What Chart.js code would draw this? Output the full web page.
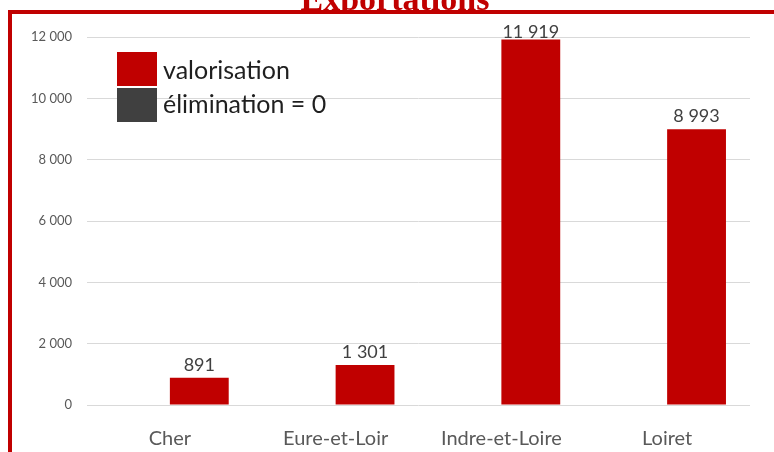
<!DOCTYPE html>
<html>
<head>
<meta charset="utf-8">
<script src="https://cdn.jsdelivr.net/npm/chart.js@4"></script>
<style>
	html, body { margin: 0; padding: 0; background: #fff; }
	#wrap { position: relative; width: 774px; height: 452px; overflow: hidden; }
	#chart { position: absolute; left: 0; top: 0; }
	#title-clip { position: absolute; left: 8px; top: 0; width: 774px; height: 10px; overflow: hidden; }
	#title { position: absolute; left: 0; top: -18px; width: 774px; text-align: center;
		font: bold 34px 'Liberation Serif', serif; line-height: 34px; color: #c00000; }
	#frame { position: absolute; left: 8px; top: 10px; width: 800px; height: 500px;
		border-left: 4px solid #c00000; border-top: 4px solid #c00000; }
</style>
</head>
<body>
<div id="wrap">
	<canvas id="chart" width="774" height="452"></canvas>
	<div id="title-clip"><div id="title">Exportations</div></div>
	<div id="frame"></div>
</div>
<script>
// Départements
const departements = ['Cher', 'Eure-et-Loir', 'Indre-et-Loire', 'Loiret'];

// tonnes
const valorisation = [891, 1301, 11919, 8993];
const elimination = [0, 0, 0, 0];

const yTicks = [0, 2000, 4000, 6000, 8000, 10000, 12000];

Chart.defaults.font.family = 'Lato, sans-serif';

/* Thousands with a space, like "11 919" */
function formatNumber(value) {
	return String(value).replace(/\B(?=(\d{3})+(?!\d))/g, ' ');
}

/* Values above the valorisation bars */
const valueLabels = {
	id: 'valueLabels',
	afterDatasetsDraw(chart) {
		const ctx = chart.ctx;
		const meta = chart.getDatasetMeta(1);
		ctx.save();
		ctx.font = '18px Lato, sans-serif';
		ctx.fillStyle = '#404040';
		ctx.textAlign = 'center';
		ctx.textBaseline = 'alphabetic';
		meta.data.forEach((bar, i) => {
			// keep the top label from going too far above the plot
			const y = Math.max(bar.y - 7, chart.chartArea.top + 1);
			ctx.fillText(formatNumber(chart.data.datasets[1].data[i]), bar.x, y);
		});
		ctx.restore();
	}
};

/* Legend drawn inside the plot, top left */
const insideLegend = {
	id: 'insideLegend',
	afterDraw(chart) {
		const ctx = chart.ctx;
		const order = [1, 0];
		ctx.save();
		ctx.font = '25px Lato, sans-serif';
		ctx.textAlign = 'left';
		ctx.textBaseline = 'alphabetic';
		order.forEach((idx, row) => {
			const ds = chart.data.datasets[idx];
			const top = 52 + row * 36;
			ctx.fillStyle = ds.backgroundColor;
			ctx.fillRect(117, top, 40, 34);
			ctx.fillStyle = '#1f1f1f';
			ctx.fillText(ds.label, 163, 79 + row * 34);
		});
		ctx.restore();
	}
};

new Chart(document.getElementById('chart'), {
	type: 'bar',
	data: {
		labels: departements,
		datasets: [
			{ label: 'élimination = 0', data: elimination, backgroundColor: '#404040' },
			{ label: 'valorisation', data: valorisation, backgroundColor: '#c00000' }
		]
	},
	options: {
		responsive: false,
		animation: false,
		categoryPercentage: 0.71,
		barPercentage: 1,
		layout: { padding: { top: 37, right: 24, left: 0, bottom: 0 } },
		plugins: {
			legend: { display: false },
			title: { display: false },
			tooltip: { enabled: false }
		},
		scales: {
			x: {
				grid: { display: false },
				border: { display: false },
				ticks: { color: '#595959', font: { size: 20 }, padding: 14 },
				afterFit: scale => { scale.height = 47; }
			},
			y: {
				min: 0,
				max: 12000,
				afterBuildTicks: scale => { scale.ticks = yTicks.map(v => ({ value: v })); },
				grid: { color: '#d9d9d9', drawTicks: false },
				border: { display: false },
				ticks: { color: '#595959', font: { size: 13 }, padding: 15, callback: v => formatNumber(v) },
				afterFit: scale => { scale.width = 87; }
			}
		}
	},
	plugins: [valueLabels, insideLegend]
});
</script>
</body>
</html>
